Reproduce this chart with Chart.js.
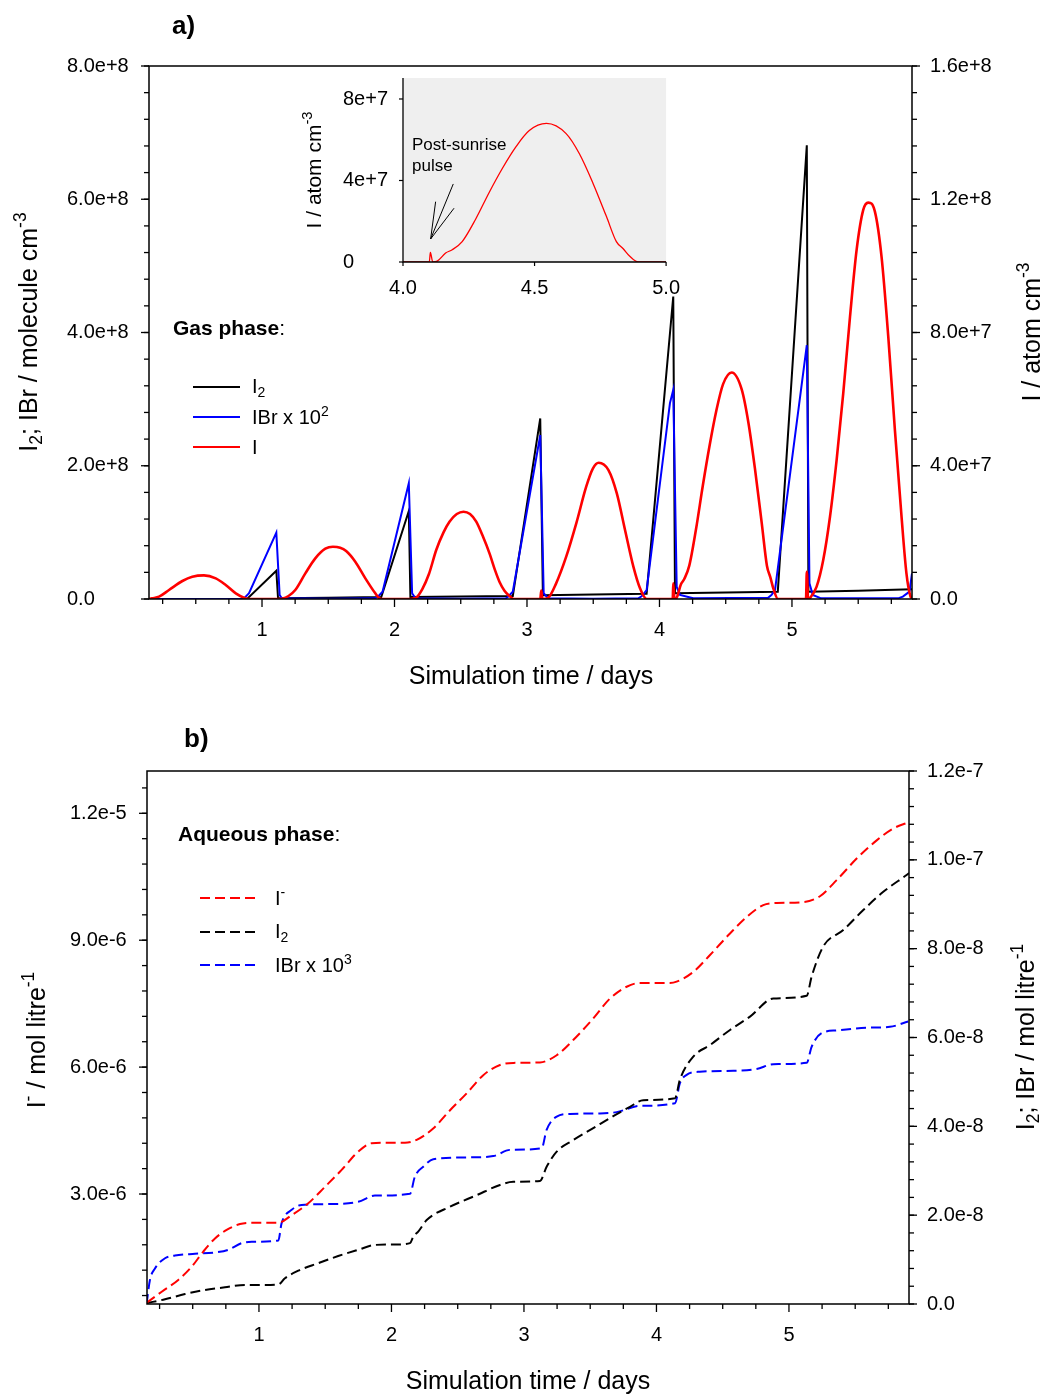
<!DOCTYPE html>
<html><head><meta charset="utf-8">
<script src="https://cdn.jsdelivr.net/npm/chart.js@4.4.1/dist/chart.umd.min.js"></script>
<style>
html,body{margin:0;padding:0;background:#fff;}
body{width:1043px;height:1395px;position:relative;overflow:hidden;font-family:"Liberation Sans",Arial,Helvetica,sans-serif;color:#000;}
canvas{position:absolute;}
.t{position:absolute;white-space:nowrap;line-height:1;}
.l{transform:translateY(-50%);}
.c{transform:translate(-50%,-50%);}
.v{transform:translate(-50%,-50%) rotate(-90deg);}
sub{font-size:70%;vertical-align:-0.3em;line-height:0;}
sup{font-size:70%;vertical-align:0.6em;line-height:0;}
b{font-weight:bold;}
</style></head>
<body>
<canvas id="ca" width="1043" height="700" style="left:0;top:0;width:1043px;height:700px"></canvas>
<canvas id="cb" width="1043" height="695" style="left:0;top:700px;width:1043px;height:695px"></canvas>
<canvas id="ci" width="404" height="244" style="left:290px;top:66px;width:404px;height:244px"></canvas>

<svg style="position:absolute;left:0;top:0;pointer-events:none" width="1043" height="1395">
  <line x1="193" y1="387" x2="240" y2="387" stroke="#000000" stroke-width="2"/>
  <line x1="193" y1="417" x2="240" y2="417" stroke="#0000ff" stroke-width="2"/>
  <line x1="193" y1="447" x2="240" y2="447" stroke="#ff0000" stroke-width="2"/>
  <line x1="200" y1="898" x2="256" y2="898" stroke="#ff0000" stroke-width="2" stroke-dasharray="10 5"/>
  <line x1="200" y1="932" x2="256" y2="932" stroke="#000000" stroke-width="2" stroke-dasharray="10 5"/>
  <line x1="200" y1="965" x2="256" y2="965" stroke="#0000ff" stroke-width="2" stroke-dasharray="10 5"/>
</svg>

<!-- panel a texts -->
<div class="t l" style="left:172px;top:25px;font-size:26px;font-weight:bold">a)</div>
<div class="t v" style="left:28px;top:332px;font-size:25px">I<sub>2</sub>; IBr / molecule cm<sup>-3</sup></div>
<div class="t v" style="left:1031px;top:332px;font-size:25px">I / atom cm<sup>-3</sup></div>
<div class="t c" style="left:531px;top:675px;font-size:25px">Simulation time / days</div>
<div class="t l" style="left:173px;top:327px;font-size:21px"><b>Gas phase</b>:</div>
<div class="t l" style="left:252px;top:386px;font-size:20px">I<sub>2</sub></div>
<div class="t l" style="left:252px;top:417px;font-size:20px">IBr x 10<sup>2</sup></div>
<div class="t l" style="left:252px;top:447px;font-size:20px">I</div>
<!-- inset texts -->
<div class="t v" style="left:313px;top:170px;font-size:21px">I / atom cm<sup>-3</sup></div>
<div class="t l" style="left:412px;top:144px;font-size:17px">Post-sunrise</div>
<div class="t l" style="left:412px;top:165px;font-size:17px">pulse</div>
<!-- panel b texts -->
<div class="t l" style="left:184px;top:738px;font-size:26px;font-weight:bold">b)</div>
<div class="t v" style="left:36px;top:1040px;font-size:25px">I<sup>-</sup> / mol litre<sup>-1</sup></div>
<div class="t v" style="left:1025px;top:1037px;font-size:25px">I<sub>2</sub>; IBr / mol litre<sup>-1</sup></div>
<div class="t c" style="left:528px;top:1380px;font-size:25px">Simulation time / days</div>
<div class="t l" style="left:178px;top:833px;font-size:21px"><b>Aqueous phase</b>:</div>
<div class="t l" style="left:275px;top:898px;font-size:20px">I<sup>-</sup></div>
<div class="t l" style="left:275px;top:931px;font-size:20px">I<sub>2</sub></div>
<div class="t l" style="left:275px;top:965px;font-size:20px">IBr x 10<sup>3</sup></div>

<script>
// ===================== DATA =====================
// Panel a – gas phase, time in days
const gasTimeI = [0.147,0.17,0.223,0.298,0.399,0.474,0.562,0.651,0.726,0.802,0.864,0.902,
  1.12,1.15,1.20,1.251,1.327,1.402,1.478,1.535,1.59,1.635,1.704,1.78,1.855,1.883,1.91,
  2.12,2.16,2.21,2.26,2.315,2.37,2.415,2.47,2.521,2.57,2.617,2.67,2.717,2.76,2.792,2.83,2.868,2.9,
  3.10,3.108,3.116,3.158,3.22,3.296,3.372,3.447,3.498,3.541,3.615,3.678,3.74,3.803,3.853,3.903,
  4.10,4.104,4.113,4.13,4.162,4.187,4.225,4.276,4.327,4.378,4.429,4.48,4.545,4.62,4.671,4.722,4.773,4.811,4.837,4.862,4.894,
  5.106,5.112,5.122,5.14,5.186,5.236,5.287,5.337,5.387,5.438,5.488,5.538,5.576,5.626,5.676,5.727,5.777,5.827,5.864,5.895,5.906];
const gasI = [0,0.2e6,0.7e6,2.7e6,5.4e6,6.7e6,7.1e6,6.2e6,4.2e6,1.7e6,0.4e6,0,
  0,0.1e6,0.9e6,2.7e6,7.7e6,1.22e7,1.51e7,1.57e7,1.54e7,1.44e7,1.12e7,6.2e6,1.7e6,0.3e6,0,
  0,0.3e6,3.0e6,7.5e6,1.47e7,2.0e7,2.32e7,2.55e7,2.62e7,2.55e7,2.32e7,1.85e7,1.37e7,8.5e6,5.2e6,2.5e6,0.9e6,0,
  0,2.5e6,0,0.3e6,4.7e6,1.27e7,2.27e7,3.37e7,3.92e7,4.09e7,3.87e7,3.17e7,2.07e7,9.7e6,3.2e6,0,
  0,4.7e6,0,0.4e6,4.4e6,6.0e6,1.0e7,2.1e7,3.4e7,4.6e7,5.65e7,6.45e7,6.8e7,6.3e7,5.3e7,3.87e7,2.24e7,1.0e7,6.5e6,2.8e6,0,
  0,8.2e6,0,0.5e6,3.7e6,1.17e7,2.47e7,4.17e7,6.17e7,8.47e7,1.048e8,1.168e8,1.19e8,1.163e8,1.028e8,7.87e7,5.07e7,2.47e7,7.7e6,0.7e6,0.2e6];

const gasTimeI2 = [0.147,0.889,1.108,1.121,1.5,1.9,2.108,2.12,2.5,2.893,3.10,3.12,3.5,3.903,4.104,4.117,4.5,4.893,5.112,5.124,5.5,5.906];
const gasI2 = [0,0.005e8,0.425e8,0.012e8,0.02e8,0.03e8,1.32e8,0.03e8,0.038e8,0.045e8,2.71e8,0.055e8,0.068e8,0.08e8,4.54e8,0.085e8,0.097e8,0.11e8,6.81e8,0.11e8,0.125e8,0.145e8];

const gasTimeIBr = [0.147,0.84,0.864,0.902,1.108,1.133,1.15,1.5,1.85,1.873,1.91,2.108,2.133,2.158,2.5,2.84,2.855,2.893,3.10,3.126,3.16,3.5,3.84,3.865,3.903,4.079,4.104,4.13,4.155,4.255,4.82,4.845,4.872,5.112,5.132,5.157,5.22,5.80,5.837,5.887,5.906];
const gasIBr = [0,0,0.01e8,0.086e8,0.995e8,0.06e8,0.01e8,0.005e8,0.01e8,0.03e8,0.11e8,1.737e8,0.086e8,0.01e8,0.005e8,0.01e8,0.03e8,0.11e8,2.46e8,0.086e8,0.01e8,0.005e8,0.01e8,0.04e8,0.135e8,2.94e8,3.14e8,0.18e8,0.06e8,0.01e8,0.02e8,0.06e8,0.135e8,3.81e8,0.235e8,0.06e8,0.01e8,0.01e8,0.035e8,0.11e8,0.385e8];

// Inset annotation (data coordinates: day, atom cm-3)
const arrowTip = [4.105, 1.13e7];
const arrowTails = [[4.124, 2.96e7], [4.191, 3.83e7], [4.194, 2.64e7]];

// Panel b – aqueous phase
const aqTimeIm = [0.152,0.266,0.391,0.492,0.58,0.668,0.756,0.857,0.945,1.146,1.247,1.372,1.498,1.624,1.749,1.85,1.95,2.102,2.19,2.315,
  2.442,2.568,2.693,2.819,2.919,3.121,3.247,3.372,3.523,3.649,3.775,3.875,4.102,4.152,4.278,4.404,4.555,4.681,4.806,4.907,
  5.108,5.234,5.36,5.511,5.662,5.787,5.888,5.906];
const aqIm = [0.43e-6,0.69e-6,0.97e-6,1.28e-6,1.64e-6,1.95e-6,2.15e-6,2.29e-6,2.32e-6,2.32e-6,2.50e-6,2.78e-6,3.17e-6,3.57e-6,4.0e-6,4.2e-6,4.21e-6,4.21e-6,4.28e-6,4.55e-6,
  4.98e-6,5.38e-6,5.81e-6,6.05e-6,6.10e-6,6.11e-6,6.28e-6,6.64e-6,7.15e-6,7.62e-6,7.90e-6,7.99e-6,7.99e-6,8.02e-6,8.25e-6,8.65e-6,9.16e-6,9.55e-6,9.83e-6,9.88e-6,
  9.90e-6,10.04e-6,10.42e-6,10.93e-6,11.36e-6,11.64e-6,11.77e-6,11.79e-6];

const aqTimeI2 = [0.152,0.291,0.442,0.592,0.743,0.894,1.045,1.146,1.196,1.297,1.448,1.598,1.749,1.875,2.051,2.14,2.165,2.202,2.266,2.442,
  2.643,2.819,2.919,3.121,3.171,3.247,3.372,3.523,3.674,3.8,3.9,4.14,4.177,4.278,4.404,4.555,4.706,4.882,5.134,5.171,
  5.259,5.41,5.561,5.712,5.888,5.906];
const aqI2 = [0.02e-8,0.106e-8,0.225e-8,0.315e-8,0.375e-8,0.43e-8,0.43e-8,0.44e-8,0.58e-8,0.75e-8,0.92e-8,1.08e-8,1.22e-8,1.33e-8,1.34e-8,1.37e-8,1.52e-8,1.63e-8,1.89e-8,2.19e-8,
  2.45e-8,2.68e-8,2.75e-8,2.77e-8,3.09e-8,3.43e-8,3.69e-8,3.96e-8,4.23e-8,4.44e-8,4.59e-8,4.63e-8,5.05e-8,5.57e-8,5.83e-8,6.17e-8,6.47e-8,6.88e-8,6.94e-8,7.37e-8,
  8.05e-8,8.42e-8,8.87e-8,9.28e-8,9.66e-8,9.70e-8];

const aqTimeIBr = [0.152,0.177,0.215,0.291,0.366,0.517,0.668,0.768,0.869,0.945,1.146,1.171,1.247,1.322,1.549,1.749,1.875,2.14,2.177,2.24,
  2.315,2.568,2.768,2.894,3.134,3.171,3.247,3.347,3.574,3.7,3.875,4.14,4.177,4.228,4.328,4.58,4.756,4.882,5.134,5.171,
  5.247,5.36,5.586,5.762,5.9];
const aqIBr = [0,0.54e-8,0.80e-8,1.03e-8,1.09e-8,1.13e-8,1.16e-8,1.22e-8,1.37e-8,1.40e-8,1.43e-8,1.82e-8,2.12e-8,2.23e-8,2.25e-8,2.30e-8,2.44e-8,2.48e-8,2.87e-8,3.09e-8,
  3.26e-8,3.30e-8,3.33e-8,3.47e-8,3.51e-8,3.92e-8,4.22e-8,4.28e-8,4.29e-8,4.32e-8,4.46e-8,4.52e-8,4.97e-8,5.16e-8,5.23e-8,5.25e-8,5.29e-8,5.40e-8,5.43e-8,5.79e-8,
  6.10e-8,6.16e-8,6.22e-8,6.24e-8,6.36e-8];

// Tick labels (major)
const dayTicks = [1,2,3,4,5];
const gasLeftTicks = [0,2e8,4e8,6e8,8e8];
const gasRightTicks = [0,4e7,8e7,1.2e8,1.6e8];
const insetXTicks = [4.0,4.5,5.0];
const insetYTicks = [0,4e7,8e7];
const aqLeftTicks = [3e-6,6e-6,9e-6,1.2e-5];
const aqRightTicks = [0,2e-8,4e-8,6e-8,8e-8,1e-7,1.2e-7];

// ===================== HELPERS =====================
const FONT = '"Liberation Sans", Arial, Helvetica, sans-serif';
function range(a, b, step){ const out=[]; for(let i=0; a+i*step <= b*(1+1e-9)+1e-15; i++) out.push(+(a+i*step).toPrecision(10)); return out; }
function pts(xs, ys){ return xs.map((x,i)=>({x:x, y:ys[i]})); }
function sci(v, dec){
  if (v === 0) return dec ? (0).toFixed(dec) : '0';
  const e = Math.floor(Math.log10(Math.abs(v)) + 1e-9);
  const m = v / Math.pow(10, e);
  return m.toFixed(dec) + 'e' + (e >= 0 ? '+' : '-') + Math.abs(e);
}
const dayMinor = range(0.25, 5.75, 0.25).filter(v => Math.abs(v - Math.round(v)) > 1e-6);

function tickPlugin(specs, lw){
  return { id:'tickMarks', afterDraw(chart){
    const c = chart.ctx; c.save(); c.strokeStyle='#000'; c.lineWidth=lw||1.3;
    for (const s of specs){
      const sc = chart.scales[s.id];
      const groups = [[s.minor||[], s.minorLen||5],[s.major||[], s.majorLen||8]];
      for (const [vals,len] of groups){
        for (const v of vals){
          const p = sc.getPixelForValue(v);
          c.beginPath();
          if (s.side==='left'){ c.moveTo(sc.right, p); c.lineTo(sc.right-len, p); }
          else if (s.side==='right'){ c.moveTo(sc.left, p); c.lineTo(sc.left+len, p); }
          else { c.moveTo(p, sc.top); c.lineTo(p, sc.top+len); }
          c.stroke();
        }
      }
    }
    c.restore();
  }};
}
function framePlugin(opts){
  return { id:'plotFrame',
    beforeDraw(chart){ if(opts.fill){ const a=chart.chartArea, c=chart.ctx; c.save(); c.fillStyle=opts.fill; c.fillRect(a.left,a.top,a.right-a.left,a.bottom-a.top); c.restore(); } },
    afterDatasetsDraw(chart){ const a=chart.chartArea, c=chart.ctx; c.save(); c.strokeStyle='#000'; c.lineWidth=opts.width||1.5; c.beginPath();
      if (opts.sides==='lb'){ c.moveTo(a.left,a.top); c.lineTo(a.left,a.bottom); c.lineTo(a.right,a.bottom); }
      else { c.rect(a.left,a.top,a.right-a.left,a.bottom-a.top); }
      c.stroke(); c.restore(); }
  };
}
function yScale(pos, min, max, majors, fmt, padding, width, size){
  return { type:'linear', position:pos, min:min, max:max,
    grid:{display:true, drawOnChartArea:false, drawTicks:false}, border:{display:false},
    afterBuildTicks: s => { s.ticks = majors.map(v=>({value:v})); },
    afterFit: s => { s.width = width; },
    ticks:{ callback: v => fmt(v), padding:padding, crossAlign: pos==='left' ? 'far' : 'near', color:'#000', font:{family:FONT, size:size||20}, autoSkip:false }
  };
}
function xScale(min, max, majors, fmt, padding, height, size){
  return { type:'linear', position:'bottom', min:min, max:max,
    grid:{display:true, drawOnChartArea:false, drawTicks:false}, border:{display:false},
    afterBuildTicks: s => { s.ticks = majors.map(v=>({value:v})); },
    afterFit: s => { s.height = height; },
    ticks:{ callback: v => fmt(v), padding:padding, color:'#000', font:{family:FONT, size:size||20}, autoSkip:false, maxRotation:0 }
  };
}
const base = { responsive:false, animation:false, devicePixelRatio:1, events:[],
  plugins:{ legend:{display:false}, tooltip:{enabled:false} },
  elements:{ point:{radius:0}, line:{tension:0} } };

// ===================== PANEL A =====================
new Chart(document.getElementById('ca'), {
  type:'line',
  data:{ datasets:[
    { label:'I', data:pts(gasTimeI, gasI), yAxisID:'yR', xAxisID:'x', borderColor:'#ff0000', borderWidth:2.6, cubicInterpolationMode:'monotone', order:0 },
    { label:'IBr x 10^2', data:pts(gasTimeIBr, gasIBr), yAxisID:'yL', xAxisID:'x', borderColor:'#0000ff', borderWidth:2, order:1 },
    { label:'I2', data:pts(gasTimeI2, gasI2), yAxisID:'yL', xAxisID:'x', borderColor:'#000000', borderWidth:2, order:2 }
  ]},
  options: Object.assign({}, base, {
    layout:{ padding:{ left:67, top:66, right:0, bottom:0 } },
    scales:{
      x: xScale(0.147, 5.906, dayTicks, v => String(v), 19, 101),
      yL: yScale('left', 0, 8e8, gasLeftTicks, v => sci(v,1), 0, 82),
      yR: yScale('right', 0, 1.6e8, gasRightTicks, v => sci(v,1), 18, 131)
    }
  }),
  plugins:[ framePlugin({}), tickPlugin([
    {id:'x', side:'bottom', major:dayTicks, minor:dayMinor},
    {id:'yL', side:'left', major:gasLeftTicks, minor:range(0, 8e8, 0.4e8)},
    {id:'yR', side:'right', major:gasRightTicks, minor:range(0, 1.6e8, 0.08e8)}
  ]) ]
});

// ===================== INSET =====================
const arrowPlugin = { id:'arrows', afterDatasetsDraw(chart){
  const c=chart.ctx, xs=chart.scales.x, ys=chart.scales.y;
  c.save(); c.strokeStyle='#000'; c.lineWidth=1;
  const tx=xs.getPixelForValue(arrowTip[0]), ty=ys.getPixelForValue(arrowTip[1]);
  for (const t of arrowTails){ c.beginPath(); c.moveTo(xs.getPixelForValue(t[0]), ys.getPixelForValue(t[1])); c.lineTo(tx,ty); c.stroke(); }
  c.restore();
}};
new Chart(document.getElementById('ci'), {
  type:'line',
  data:{ datasets:[
    { label:'I', data:pts(gasTimeI, gasI), borderColor:'#ff0000', borderWidth:1.3, cubicInterpolationMode:'monotone' }
  ]},
  options: Object.assign({}, base, {
    layout:{ padding:{ left:53, top:12, right:24, bottom:0 } },
    scales:{
      x: xScale(4.0, 5.0, insetXTicks, v => v.toFixed(1), 14, 48),
      y: yScale('left', 0, 9.03e7, insetYTicks, v => sci(v,0), 0, 60)
    }
  }),
  plugins:[ framePlugin({sides:'lb', fill:'#efefef', width:1.3}), arrowPlugin, tickPlugin([
    {id:'x', side:'bottom', major:insetXTicks, majorLen:4},
    {id:'y', side:'left', major:insetYTicks, majorLen:4}
  ], 1.2) ]
});

// ===================== PANEL B =====================
const dash = [10,5];
new Chart(document.getElementById('cb'), {
  type:'line',
  data:{ datasets:[
    { label:'I-', data:pts(aqTimeIm, aqIm), yAxisID:'yL', borderColor:'#ff0000', borderWidth:2, borderDash:dash, cubicInterpolationMode:'monotone' },
    { label:'I2', data:pts(aqTimeI2, aqI2), yAxisID:'yR', borderColor:'#000000', borderWidth:2, borderDash:dash, cubicInterpolationMode:'monotone' },
    { label:'IBr x 10^3', data:pts(aqTimeIBr, aqIBr), yAxisID:'yR', borderColor:'#0000ff', borderWidth:2, borderDash:dash, cubicInterpolationMode:'monotone' }
  ]},
  options: Object.assign({}, base, {
    layout:{ padding:{ left:70, top:71, right:0, bottom:0 } },
    scales:{
      x: xScale(0.155, 5.906, dayTicks, v => String(v), 19, 91),
      yL: yScale('left', 0.4e-6, 1.3e-5, aqLeftTicks, v => sci(v,1), 0, 77),
      yR: yScale('right', 0, 1.2e-7, aqRightTicks, v => sci(v,1), 18, 134)
    }
  }),
  plugins:[ framePlugin({}), tickPlugin([
    {id:'x', side:'bottom', major:dayTicks, minor:dayMinor},
    {id:'yL', side:'left', major:aqLeftTicks, minor:range(0.6e-6, 1.26e-5, 0.6e-6)},
    {id:'yR', side:'right', major:aqRightTicks, minor:range(0, 1.2e-7, 0.4e-8)}
  ]) ]
});
</script>
</body></html>
